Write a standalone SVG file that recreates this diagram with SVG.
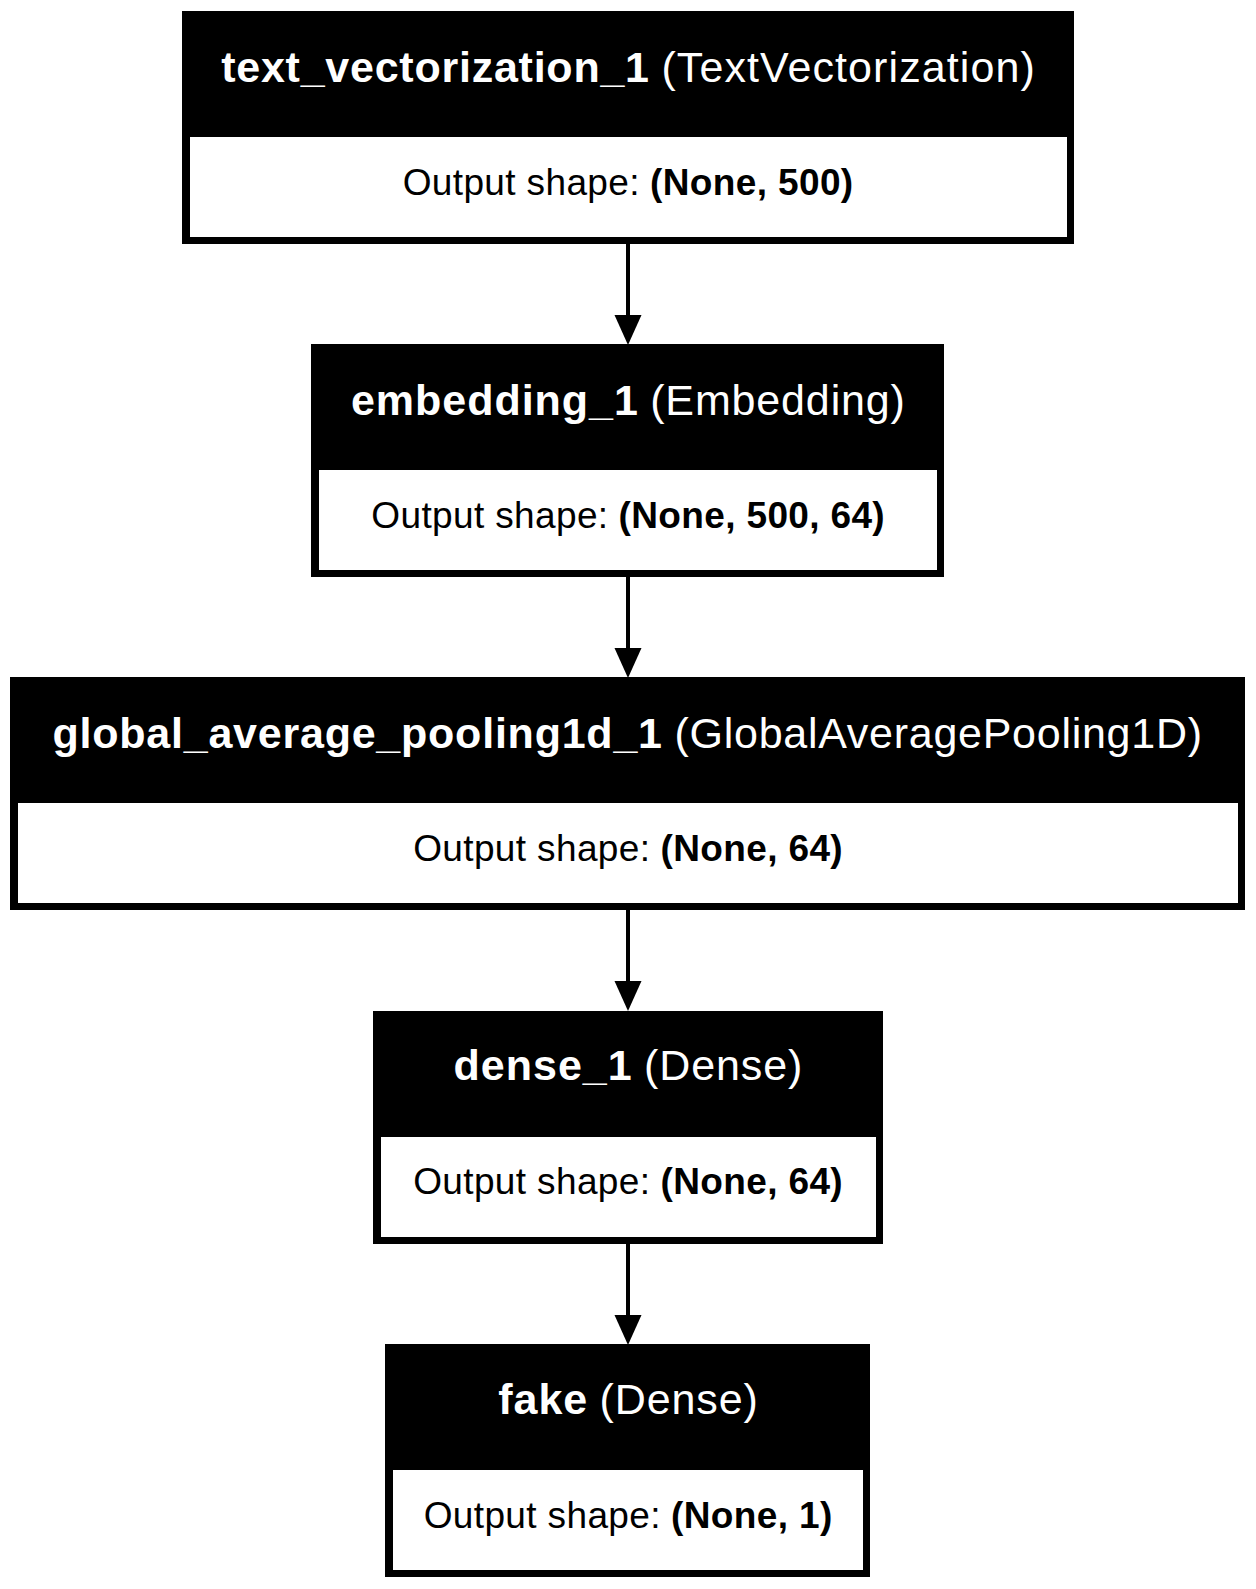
<svg xmlns="http://www.w3.org/2000/svg" width="1256" height="1589" viewBox="0 0 1256 1589">
<defs>
<style>
.outer{fill:#000;}
.inner{fill:#fff;}
.hd{font-family:"Liberation Sans",Arial,Helvetica,sans-serif;font-size:43px;fill:#fff;}
.bd{font-family:"Liberation Sans",Arial,Helvetica,sans-serif;font-size:37px;fill:#000;}
.b{font-weight:bold;}
.edge{stroke:#000;stroke-width:4;fill:none;}
.head{fill:#000;stroke:none;}
</style>
</defs>
<rect width="1256" height="1589" fill="#fff"/>

<g id="edges">
<g id="e1"><line class="edge" x1="628" y1="244" x2="628" y2="318"/><polygon class="head" points="614.5,315 641.5,315 628,345"/></g>
<g id="e2"><line class="edge" x1="628" y1="577" x2="628" y2="651"/><polygon class="head" points="614.5,648 641.5,648 628,678"/></g>
<g id="e3"><line class="edge" x1="628" y1="910" x2="628" y2="984"/><polygon class="head" points="614.5,981 641.5,981 628,1011"/></g>
<g id="e4"><line class="edge" x1="628" y1="1244" x2="628" y2="1318"/><polygon class="head" points="614.5,1315 641.5,1315 628,1345"/></g>
</g>

<g id="text_vectorization_1">
<rect class="outer" x="182" y="11" width="892" height="233"/>
<rect class="inner" x="190" y="137" width="877" height="100"/>
<text class="hd" y="82"><tspan class="b" x="221.2" textLength="427.8" lengthAdjust="spacing">text_vectorization_1</tspan><tspan x="661.4" textLength="373.4" lengthAdjust="spacing">(TextVectorization)</tspan></text>
<text class="bd" y="195"><tspan x="402.7" textLength="236.8" lengthAdjust="spacing">Output shape:</tspan><tspan class="b" x="650.0" textLength="203.2" lengthAdjust="spacing">(None, 500)</tspan></text>
</g>

<g id="embedding_1">
<rect class="outer" x="311" y="344" width="633" height="233"/>
<rect class="inner" x="319" y="470" width="618" height="100"/>
<text class="hd" y="415"><tspan class="b" x="351.0" textLength="286.8" lengthAdjust="spacing">embedding_1</tspan><tspan x="650.2" textLength="254.7" lengthAdjust="spacing">(Embedding)</tspan></text>
<text class="bd" y="528"><tspan x="371.3" textLength="236.8" lengthAdjust="spacing">Output shape:</tspan><tspan class="b" x="618.6" textLength="266.1" lengthAdjust="spacing">(None, 500, 64)</tspan></text>
</g>

<g id="global_average_pooling1d_1">
<rect class="outer" x="10" y="677" width="1235" height="233"/>
<rect class="inner" x="18" y="803" width="1220" height="100"/>
<text class="hd" y="748"><tspan class="b" x="52.5" textLength="609.5" lengthAdjust="spacing">global_average_pooling1d_1</tspan><tspan x="674.5" textLength="527.5" lengthAdjust="spacing">(GlobalAveragePooling1D)</tspan></text>
<text class="bd" y="861"><tspan x="413.2" textLength="236.8" lengthAdjust="spacing">Output shape:</tspan><tspan class="b" x="660.5" textLength="182.2" lengthAdjust="spacing">(None, 64)</tspan></text>
</g>

<g id="dense_1">
<rect class="outer" x="373" y="1011" width="510" height="233"/>
<rect class="inner" x="381" y="1137" width="495" height="100"/>
<text class="hd" y="1080"><tspan class="b" x="453.6" textLength="178.1" lengthAdjust="spacing">dense_1</tspan><tspan x="644.1" textLength="158.2" lengthAdjust="spacing">(Dense)</tspan></text>
<text class="bd" y="1194"><tspan x="413.2" textLength="236.8" lengthAdjust="spacing">Output shape:</tspan><tspan class="b" x="660.5" textLength="182.2" lengthAdjust="spacing">(None, 64)</tspan></text>
</g>

<g id="fake">
<rect class="outer" x="385" y="1344" width="485" height="233"/>
<rect class="inner" x="393" y="1470" width="470" height="100"/>
<text class="hd" y="1414"><tspan class="b" x="498.2" textLength="89.0" lengthAdjust="spacing">fake</tspan><tspan x="599.6" textLength="158.2" lengthAdjust="spacing">(Dense)</tspan></text>
<text class="bd" y="1528"><tspan x="423.7" textLength="236.8" lengthAdjust="spacing">Output shape:</tspan><tspan class="b" x="671.0" textLength="161.3" lengthAdjust="spacing">(None, 1)</tspan></text>
</g>
</svg>
